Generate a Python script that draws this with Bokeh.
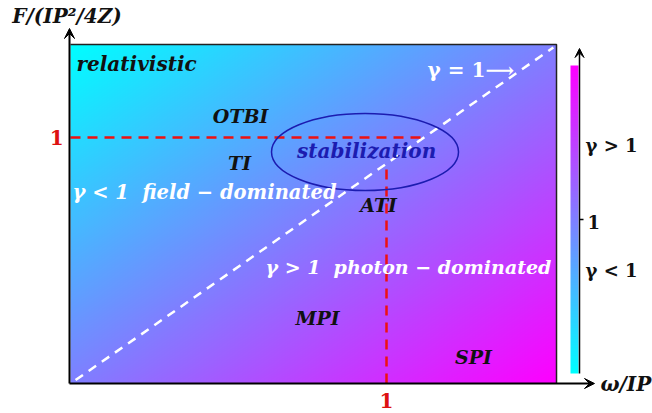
import numpy as np
from bokeh.plotting import figure
from bokeh.models import Range1d, Arrow, VeeHead, ColumnDataSource
from bokeh.core.properties import value
from bokeh.embed import file_html
from bokeh.resources import INLINE

# ---------------- data ----------------
regimes = ["relativistic", "OTBI", "TI", "stabilization", "ATI", "MPI", "SPI"]
regime_x = [0.019, 0.538, 0.535, 0.937, 0.975, 0.782, 1.275]
regime_y = [1.30, 1.089, 0.898, 0.947, 0.724, 0.268, 0.106]
regime_colors = ["#111111", "#111111", "#111111", "#1c1cb0", "#111111", "#111111", "#111111"]
regime_sizes = ["20px", "19px", "19px", "20px", "19px", "19px", "19px"]

x_threshold = 1.0          # omega/IP = 1
y_threshold = 1.0          # F/(IP^2/4Z) = 1
gamma_line_x = [0.016, 1.528]   # gamma = 1 boundary
gamma_line_y = [0.014, 1.366]
gamma_slope = 0.895

x_max = 1.538
y_max = 1.378

tick_labels = ["1", "1"]
cbar_labels = ["γ > 1", "1", "γ < 1"]
region_labels = ["γ < 1\u00a0\u00a0field − dominated", "γ > 1\u00a0\u00a0photon − dominated"]

# ---------------- figure ----------------
W, H = 652, 413
p = figure(width=W, height=H, output_backend="svg", toolbar_location=None,
           x_range=Range1d(-70 / 316, 582 / 316), y_range=Range1d(-30 / 246, 383 / 246),
           x_axis_type=None, y_axis_type=None, min_border=0)
p.outline_line_color = None
p.grid.visible = False
p.background_fill_color = "white"
p.border_fill_color = "white"

# gradient background
nx, ny = 300, 300
fx = np.linspace(0, 1, nx)[None, :]
fy = np.linspace(0, 1, ny)[:, None]   # row 0 = bottom
t = (fx + (1 - fy)) / 2
img = np.empty((ny, nx), dtype=np.uint32)
v = img.view(dtype=np.uint8).reshape((ny, nx, 4))
v[:, :, 0] = (255 * t).astype(np.uint8)
v[:, :, 1] = (255 * (1 - t)).astype(np.uint8)
v[:, :, 2] = 255
v[:, :, 3] = 255
p.image_rgba(image=[img], x=0, y=0, dw=x_max, dh=y_max)

# box border (top, right)
p.line([0, x_max, x_max], [y_max, y_max, 0], line_color="#222222", line_width=1.5)

# colour bar
cb_x0, cb_x1 = 500 / 316, 508 / 316
cb_y0, cb_y1 = 10 / 246, 318 / 246
nc = 200
tc = np.linspace(0, 1, nc)[:, None] * np.ones((1, 2))
cimg = np.empty((nc, 2), dtype=np.uint32)
cv = cimg.view(dtype=np.uint8).reshape((nc, 2, 4))
cv[:, :, 0] = (255 * tc).astype(np.uint8)
cv[:, :, 1] = (255 * (1 - tc)).astype(np.uint8)
cv[:, :, 2] = 255
cv[:, :, 3] = 255
p.image_rgba(image=[cimg], x=cb_x0, y=cb_y0, dw=cb_x1 - cb_x0, dh=cb_y1 - cb_y0)
cb_ax = 509 / 316
p.add_layout(Arrow(end=VeeHead(size=9, fill_color="black", line_color="black"),
                   x_start=cb_ax, y_start=cb_y0, x_end=cb_ax, y_end=335 / 246,
                   line_color="black", line_width=1.5))
cb_mid = (cb_y0 + cb_y1) / 2
p.segment(x0=[cb_ax], y0=[cb_mid], x1=[cb_ax + 4 / 316], y1=[cb_mid],
          line_color="black", line_width=1.5)
p.text(x=[515 / 316, 517 / 316, 515 / 316], y=[238 / 246, cb_mid - 2 / 246, 113 / 246], text=cbar_labels,
       text_font=value("DejaVu Serif"), text_font_style="bold", text_font_size="18px",
       text_color="#111111", text_align="left", text_baseline="middle")

# gamma = 1 diagonal
p.line(gamma_line_x, gamma_line_y, line_color="white", line_width=2.5, line_dash="9 7")

# threshold dashed lines (from axes up to the gamma=1 line)
p.line([0, y_threshold / gamma_slope], [y_threshold, y_threshold],
       line_color="#ee1111", line_width=2.5, line_dash="10 7")
p.line([x_threshold, x_threshold], [0, gamma_slope * x_threshold],
       line_color="#ee1111", line_width=2.5, line_dash="10 7")

# stabilization ellipse
p.ellipse(x=[0.932], y=[0.941], width=[187 / 316], height=[77 / 246],
          fill_color=None, line_color="#1c1cb0", line_width=1.5)

# axes with arrows
p.add_layout(Arrow(end=VeeHead(size=10, fill_color="black", line_color="black"),
                   x_start=-1 / 316, y_start=0, x_end=-1 / 316, y_end=355 / 246,
                   line_color="black", line_width=2))
p.add_layout(Arrow(end=VeeHead(size=10, fill_color="black", line_color="black"),
                   x_start=-1 / 316, y_start=0, x_end=524 / 316, y_end=0,
                   line_color="black", line_width=2))

# regime labels
src = ColumnDataSource(dict(x=regime_x, y=regime_y, text=regimes, color=regime_colors,
                            size=regime_sizes,
                            align=["left", "center", "center", "center", "center", "center", "center"]))
p.text(x="x", y="y", text="text", text_color="color", text_align="align", source=src,
       text_font=value("DejaVu Serif"), text_font_style="bold italic", text_font_size="size",
       text_baseline="middle")

# white annotations
p.text(x=[0.0063, 0.617], y=[0.776, 0.4756], text=region_labels,
       text_font=value("DejaVu Serif"), text_font_style="bold italic",
       text_font_size=["19.5px", "19px"],
       text_color="white", text_align="left", text_baseline="middle")
p.text(x=[1.13], y=[1.276], text=["γ = 1⟶"],
       text_font=value("DejaVu Serif"), text_font_style="bold", text_font_size="20px",
       text_color="white", text_align="left", text_baseline="middle")

# tick labels
p.text(x=[-0.044, x_threshold], y=[y_threshold, -0.069], text=tick_labels,
       text_font=value("DejaVu Serif"), text_font_style="bold", text_font_size="20px",
       text_color="#dd1111", text_align="center", text_baseline="middle")

# axis titles
p.text(x=[-0.184], y=[1.492], text=["F/(IP²/4Z)"],
       text_font=value("DejaVu Serif"), text_font_style="bold italic", text_font_size="20px",
       text_color="#111111", text_align="left", text_baseline="middle")
p.text(x=[1.677], y=[0.0], text=["ω/IP"],
       text_font=value("DejaVu Serif"), text_font_style="bold italic", text_font_size="20px",
       text_color="#111111", text_align="left", text_baseline="middle")

open("out.html", "w").write(file_html(p, INLINE))
